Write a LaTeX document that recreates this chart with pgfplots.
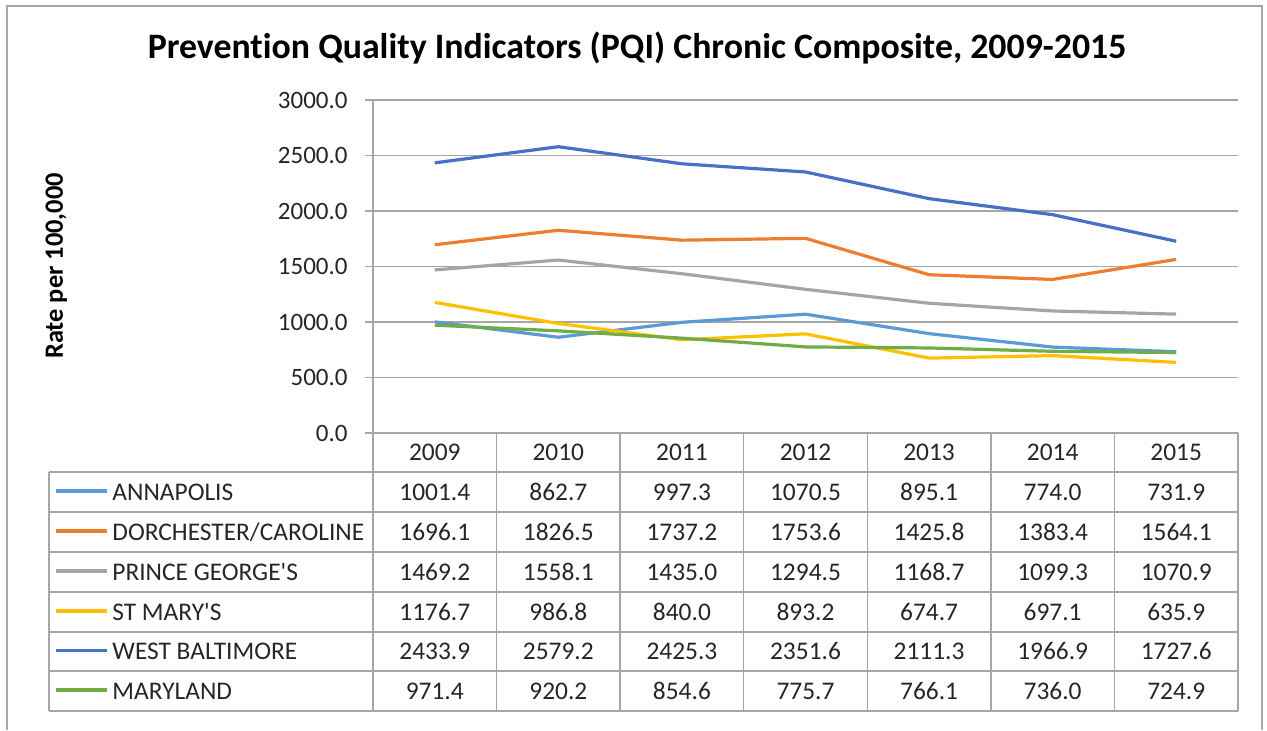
\documentclass[border=0pt]{standalone}
\usepackage{fontspec}
\setmainfont{Carlito}[Ligatures=NoCommon]
\usepackage{pgfplots}
\usepackage{pgfplotstable}
\pgfplotsset{compat=1.18}
\definecolor{cA}{HTML}{5B9BD5}
\definecolor{cD}{HTML}{ED7D31}
\definecolor{cP}{HTML}{A5A5A5}
\definecolor{cS}{HTML}{FFC000}
\definecolor{cW}{HTML}{4472C4}
\definecolor{cM}{HTML}{70AD47}
\definecolor{gridc}{HTML}{A6A6A6}
\definecolor{txt}{HTML}{262626}

\pgfplotstableread{
x ann dor pg stm wb md
0 1001.4 1696.1 1469.2 1176.7 2433.9 971.4
1 862.7 1826.5 1558.1 986.8 2579.2 920.2
2 997.3 1737.2 1435.0 840.0 2425.3 854.6
3 1070.5 1753.6 1294.5 893.2 2351.6 775.7
4 895.1 1425.8 1168.7 674.7 2111.3 766.1
5 774.0 1383.4 1099.3 697.1 1966.9 736.0
6 731.9 1564.1 1070.9 635.9 1727.6 724.9
}\data

\begin{document}
\begin{tikzpicture}
\begin{scope}[x=0.5pt,y=-0.5pt,shift={(-373,-433)}]
\path[use as bounding box] (0,0) rectangle (1267,719);
\end{scope}
\begin{axis}[
  at={(0,0)}, anchor=south west,
  scale only axis, width=432.5pt, height=166.5pt,
  xmin=-0.5, xmax=6.5, ymin=0, ymax=3000,
  xtick=\empty,
  ytick={0,500,...,3000},
  ytick pos=left,
  tick align=outside,
  major tick length=4pt,
  ytick style={draw=gridc, line width=0.75pt},
  axis line style={draw=none},
  ymajorgrids,
  grid style={draw=gridc, line width=0.75pt},
  scaled y ticks=false,
  /pgf/number format/.cd, fixed, fixed zerofill, precision=1, 1000 sep={}, assume math mode=true,
  /pgfplots/.cd,
  yticklabel style={font=\fontsize{12.5}{14}\selectfont, text=txt, anchor=east, inner sep=0pt, xshift=-8.5pt},
  clip=false,
]
\addplot[cA, line width=1.6pt, line join=round] table[x=x,y=ann]{\data};
\addplot[cD, line width=1.6pt, line join=round] table[x=x,y=dor]{\data};
\addplot[cP, line width=1.6pt, line join=round] table[x=x,y=pg]{\data};
\addplot[cS, line width=1.6pt, line join=round] table[x=x,y=stm]{\data};
\addplot[cW, line width=1.6pt, line join=round] table[x=x,y=wb]{\data};
\addplot[cM, line width=1.6pt, line join=round] table[x=x,y=md]{\data};
\end{axis}
\begin{scope}[x=0.5pt,y=-0.5pt,shift={(-373,-433)}]
% outer border
\draw[gridc, line width=0.75pt] (7,730) -- (7,6) -- (1262,6) -- (1262,730);
% title
\node[anchor=base, inner sep=0pt, font=\fontsize{17.9}{21}\selectfont\bfseries] at (637,59)
  {Prevention Quality Indicators (PQI) Chronic Composite, 2009-2015};
% y label
\node[rotate=90, anchor=base, inner sep=0pt, font=\fontsize{13.2}{15}\selectfont\bfseries] at (63,266) {Rate per 100,000};
% table grid
\draw[gridc, line width=0.75pt] (373,100) -- (373,711);
\foreach \k in {1,...,7} {
  \draw[gridc, line width=0.75pt] ({373+865/7*\k},433) -- ({373+865/7*\k},711);
}
\foreach \yy in {472,512,552,592,632,671,711} {
  \draw[gridc, line width=0.75pt] (49,\yy) -- (1238,\yy);
}
\draw[gridc, line width=0.75pt] (49,472) -- (49,711);
% header
\foreach \yr [count=\i from 0] in {2009,2010,2011,2012,2013,2014,2015} {
  \node[anchor=base, inner sep=0pt, text=txt, font=\fontsize{12.7}{14}\selectfont] at ({373+865/7*(\i+0.5)},460) {\yr};
}
\newcommand\row[4]{%
  \draw[#2, line width=1.6pt] (56,#3-1) -- (107,#3-1);
  \node[anchor=base west, inner sep=0pt, text=txt, font=\fontsize{12.7}{14}\selectfont] at (112,#3+8) {#1};
  \foreach \v [count=\i from 0] in {#4} {
    \node[anchor=base, inner sep=0pt, text=txt, font=\fontsize{12.7}{14}\selectfont] at ({373+865/7*(\i+0.5)},#3+8) {\v};
  }
}
\row{ANNAPOLIS}{cA}{492}{1001.4,862.7,997.3,1070.5,895.1,774.0,731.9}
\row{DORCHESTER/CAROLINE}{cD}{532}{1696.1,1826.5,1737.2,1753.6,1425.8,1383.4,1564.1}
\row{PRINCE GEORGE\textquotesingle S}{cP}{572}{1469.2,1558.1,1435.0,1294.5,1168.7,1099.3,1070.9}
\row{ST MARY\textquotesingle S}{cS}{612}{1176.7,986.8,840.0,893.2,674.7,697.1,635.9}
\row{WEST BALTIMORE}{cW}{651.5}{2433.9,2579.2,2425.3,2351.6,2111.3,1966.9,1727.6}
\row{MARYLAND}{cM}{691}{971.4,920.2,854.6,775.7,766.1,736.0,724.9}
\end{scope}
\end{tikzpicture}
\end{document}
